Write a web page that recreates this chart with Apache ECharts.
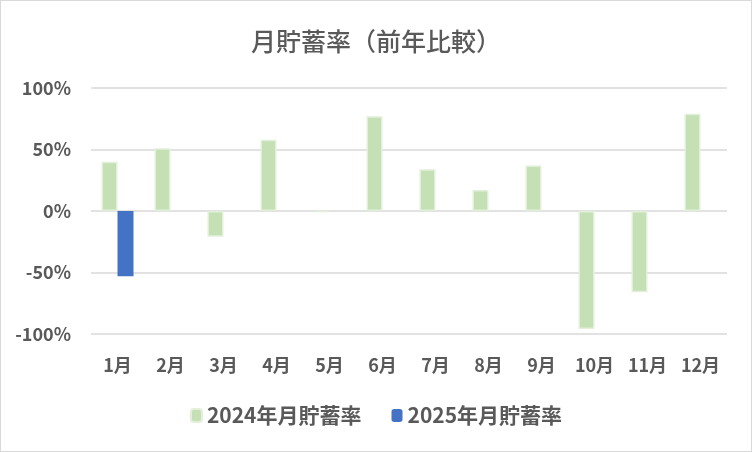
<!DOCTYPE html>
<html>
<head>
<meta charset="utf-8">
<script src="https://cdn.jsdelivr.net/npm/echarts@6/dist/echarts.min.js"></script>
<style>
html, body { margin: 0; padding: 0; background: #fff; }
#chart {
  width: 752px;
  height: 452px;
  box-sizing: border-box;
  border: 1px solid #d9d9d9;
}
</style>
</head>
<body>
<div id="chart"></div>
<script>
const months = ['1月', '2月', '3月', '4月', '5月', '6月', '7月', '8月', '9月', '10月', '11月', '12月']
const rate2024 = [0.40, 0.51, -0.21, 0.58, -0.01, 0.77, 0.34, 0.17, 0.37, -0.96, -0.66, 0.79]
const rate2025 = [-0.53, null, null, null, null, null, null, null, null, null, null, null]

const font = 'Noto Sans CJK JP'
const textColor = '#595959'

const chart = echarts.init(document.getElementById('chart'))

const option = {
  animation: false,
  title: {
    text: '月貯蓄率（前年比較）',
    left: 'center',
    top: 23,
    textStyle: { fontFamily: font, fontSize: 25, fontWeight: 500, color: textColor }
  },
  legend: {
    bottom: 20,
    left: 'center',
    itemWidth: 11,
    itemHeight: 13,
    itemGap: 30,
    textStyle: { fontFamily: font, fontSize: 21, fontWeight: 'bold', color: textColor }
  },
  grid: { left: 90, right: 24, top: 87, bottom: 117 },
  xAxis: {
    type: 'category',
    data: months,
    axisLine: { show: false, onZero: false },
    axisTick: { show: false },
    axisLabel: { margin: 22, fontFamily: font, fontSize: 18, fontWeight: 'bold', color: textColor }
  },
  yAxis: {
    type: 'value',
    min: -1,
    max: 1,
    interval: 0.5,
    axisLabel: {
      margin: 20,
      fontFamily: font,
      fontSize: 18,
      fontWeight: 'bold',
      color: textColor,
      formatter: v => Math.round(v * 100) + '%'
    },
    splitLine: { lineStyle: { color: '#d9d9d9', width: 1.5 } }
  },
  series: [
    {
      name: '2024年月貯蓄率',
      type: 'bar',
      data: rate2024,
      barWidth: 16,
      barGap: '0%',
      itemStyle: { color: '#c5e0b4', borderColor: '#e2f0d9', borderWidth: 1.5 }
    },
    {
      name: '2025年月貯蓄率',
      type: 'bar',
      data: rate2025,
      barWidth: 16,
      barGap: '0%',
      itemStyle: { color: '#4472c4' }
    }
  ]
}

chart.setOption(option)
</script>
</body>
</html>
